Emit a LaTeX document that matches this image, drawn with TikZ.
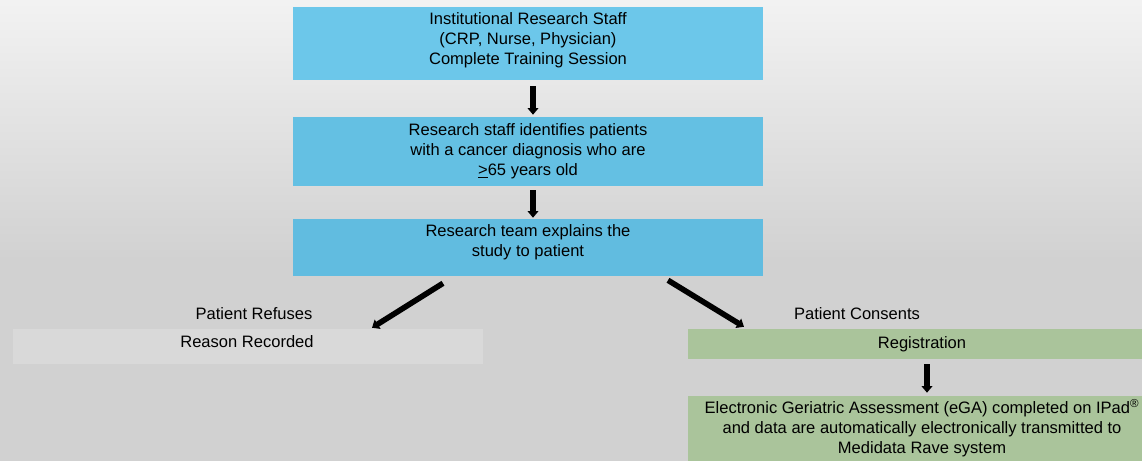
\documentclass[tikz,border=0pt]{standalone}
\usepackage{fontspec}
\setmainfont{Liberation Sans}
\usetikzlibrary{arrows.meta}
\definecolor{bluetop}{HTML}{6CC7EA}
\definecolor{bluemid}{HTML}{64C0E3}
\definecolor{bluelow}{HTML}{61BCE0}
\definecolor{reasongray}{HTML}{D9D9D9}
\definecolor{consentgreen}{HTML}{AAC49B}
\begin{document}
\begin{tikzpicture}[x=0.75pt,y=-0.75pt]
% Estilos
\tikzset{
  flowbox/.style={rectangle, inner sep=0pt, minimum width=352.5pt, align=center, font=\fontsize{12.4}{15}\selectfont},
  boxtext/.style={inner sep=0pt, align=center, font=\fontsize{12.4}{15}\selectfont},
  branchlabel/.style={inner sep=0pt, font=\fontsize{12.4}{15}\selectfont},
  flowarrow/.style={line width=4.2pt, -{Triangle[width=8pt,length=5pt]}}
}

% Fundo
\useasboundingbox (0,0) rectangle (1142,461);
\shade[top color=black!5, bottom color=black!18] (0,0) rectangle (1142,260);
\fill[black!18] (0,260) rectangle (1142,461);

% Etapas do estudo
\node[flowbox, fill=bluetop, minimum height=54.75pt] (training) at (528,43.5) {};
\node[boxtext] (trainingtxt) at (528,40) {Institutional Research Staff\\(CRP, Nurse, Physician)\\Complete Training Session};
\node[flowbox, fill=bluemid, minimum height=51.75pt] (identify) at (528,151.5) {Research staff identifies patients\\with a cancer diagnosis who are\\\underline{>}65 years old};
\node[flowbox, fill=bluelow, minimum height=42.75pt] (explain) at (528,247.5) {};
\node[boxtext] (explaintxt) at (528,242) {Research team explains the\\study to patient};

% Ramo: recusa
\node[flowbox, fill=reasongray, minimum height=26.25pt] (reason) at (248,346.5) {};
\node[boxtext] (reasontxt) at (247,342) {Reason Recorded};
\node[branchlabel] (refuselbl) at (254,314) {Patient Refuses};

% Ramo: consentimento
\node[flowbox, fill=consentgreen, minimum width=351pt, minimum height=22.5pt] (register) at (922,344) {Registration};
\node[branchlabel] (consentlbl) at (857,314) {Patient Consents};
\node[flowbox, fill=consentgreen, minimum width=351pt, minimum height=48.75pt] (assess) at (922,428.5) {Electronic Geriatric Assessment (eGA) completed on IPad\textsuperscript{\textregistered}\\and data are automatically electronically transmitted to\\Medidata Rave system};

% Setas
\draw[flowarrow] ([shift={(5,6)}]training.south) -- ([shift={(5,-2)}]identify.north);
\draw[flowarrow] ([shift={(5,4)}]identify.south) -- ([shift={(5,-1)}]explain.north);
\draw[flowarrow] ([shift={(-85,7)}]explain.south) -- ([shift={(124,-1)}]reason.north);
\draw[flowarrow] ([shift={(140,4)}]explain.south) -- ([shift={(-178,-2)}]register.north);
\draw[flowarrow] ([shift={(5,5)}]register.south) -- ([shift={(5,-3)}]assess.north);

\end{tikzpicture}
\end{document}
